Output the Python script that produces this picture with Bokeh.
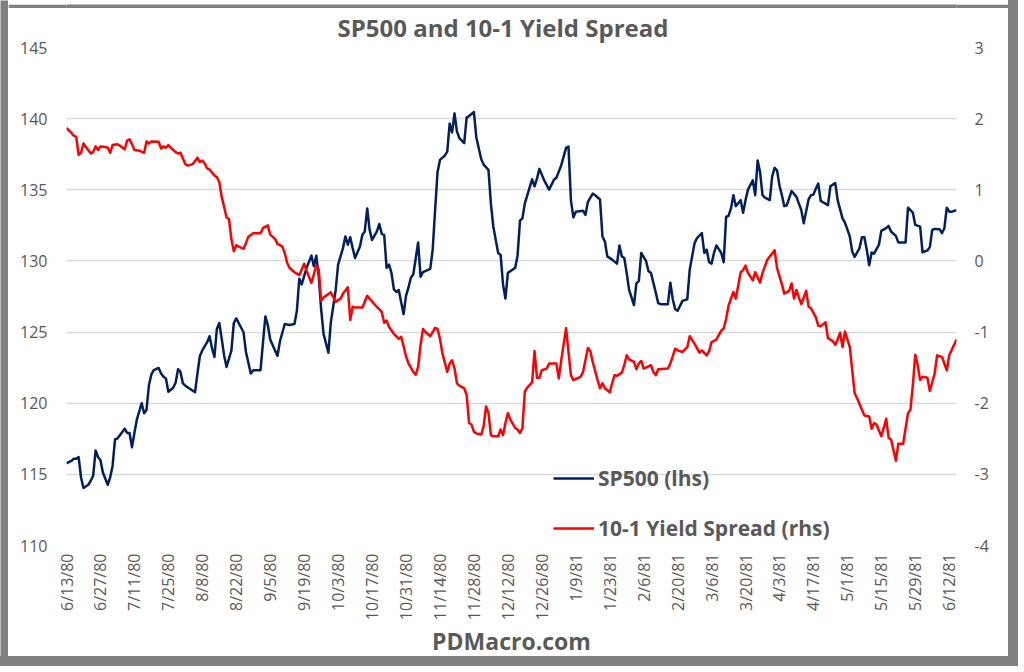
import pandas as pd
from math import pi
from bokeh.plotting import figure
from bokeh.layouts import row, column
from bokeh.models import (Range1d, LinearAxis, FixedTicker, Title, Legend,
                          LegendItem, ColumnDataSource)
from bokeh.embed import file_html
from bokeh.resources import INLINE

# ---------------- data ----------------
sp500_dates = [
    "6/13/80", "6/15/80", "6/16/80", "6/17/80", "6/18/80", "6/19/80", "6/20/80", "6/22/80", "6/23/80", "6/24/80",
    "6/25/80", "6/26/80", "6/27/80", "6/28/80", "6/30/80", "7/1/80", "7/2/80", "7/3/80", "7/4/80", "7/7/80",
    "7/8/80", "7/9/80", "7/10/80", "7/11/80", "7/12/80", "7/14/80", "7/15/80", "7/16/80", "7/17/80", "7/18/80",
    "7/19/80", "7/21/80", "7/22/80", "7/23/80", "7/24/80", "7/25/80", "7/27/80", "7/28/80", "7/29/80", "7/30/80",
    "7/31/80", "8/1/80", "8/3/80", "8/5/80", "8/6/80", "8/7/80", "8/8/80", "8/10/80", "8/11/80", "8/12/80",
    "8/13/80", "8/14/80", "8/15/80", "8/16/80", "8/17/80", "8/18/80", "8/20/80", "8/21/80", "8/22/80", "8/23/80",
    "8/25/80", "8/26/80", "8/28/80", "8/29/80", "9/1/80", "9/3/80", "9/4/80", "9/5/80", "9/8/80", "9/9/80",
    "9/11/80", "9/13/80", "9/15/80", "9/16/80", "9/17/80", "9/18/80", "9/19/80", "9/20/80", "9/22/80", "9/23/80",
    "9/24/80", "9/25/80", "9/26/80", "9/27/80", "9/29/80", "9/30/80", "10/2/80", "10/3/80", "10/5/80", "10/6/80",
    "10/7/80", "10/8/80", "10/9/80", "10/10/80", "10/12/80", "10/13/80", "10/14/80", "10/15/80", "10/16/80", "10/17/80",
    "10/19/80", "10/20/80", "10/21/80", "10/22/80", "10/23/80", "10/24/80", "10/25/80", "10/26/80", "10/27/80", "10/28/80",
    "10/30/80", "10/31/80", "11/1/80", "11/2/80", "11/3/80", "11/5/80", "11/6/80", "11/7/80", "11/10/80", "11/11/80",
    "11/12/80", "11/13/80", "11/14/80", "11/16/80", "11/17/80", "11/18/80", "11/19/80", "11/20/80", "11/21/80", "11/22/80",
    "11/24/80", "11/25/80", "11/26/80", "11/28/80", "11/29/80", "12/1/80", "12/2/80", "12/4/80", "12/5/80", "12/6/80",
    "12/8/80", "12/9/80", "12/10/80", "12/11/80", "12/12/80", "12/13/80", "12/15/80", "12/16/80", "12/17/80", "12/18/80",
    "12/19/80", "12/22/80", "12/23/80", "12/24/80", "12/25/80", "12/27/80", "12/29/80", "12/31/80", "1/1/81", "1/3/81",
    "1/5/81", "1/6/81", "1/7/81", "1/8/81", "1/9/81", "1/12/81", "1/13/81", "1/14/81", "1/16/81", "1/17/81",
    "1/19/81", "1/20/81", "1/21/81", "1/22/81", "1/24/81", "1/26/81", "1/27/81", "1/28/81", "1/29/81", "1/30/81",
    "1/31/81", "2/2/81", "2/3/81", "2/4/81", "2/5/81", "2/7/81", "2/8/81", "2/9/81", "2/11/81", "2/12/81",
    "2/13/81", "2/16/81", "2/17/81", "2/18/81", "2/19/81", "2/20/81", "2/22/81", "2/24/81", "2/25/81", "2/27/81",
    "2/28/81", "3/2/81", "3/3/81", "3/4/81", "3/5/81", "3/6/81", "3/7/81", "3/8/81", "3/10/81", "3/11/81",
    "3/12/81", "3/13/81", "3/14/81", "3/15/81", "3/16/81", "3/18/81", "3/19/81", "3/20/81", "3/21/81", "3/23/81",
    "3/24/81", "3/25/81", "3/26/81", "3/27/81", "3/28/81", "3/30/81", "3/31/81", "4/1/81", "4/2/81", "4/3/81",
    "4/4/81", "4/5/81", "4/6/81", "4/8/81", "4/10/81", "4/12/81", "4/13/81", "4/15/81", "4/16/81", "4/17/81",
    "4/18/81", "4/19/81", "4/20/81", "4/23/81", "4/24/81", "4/26/81", "4/27/81", "4/29/81", "4/30/81", "5/2/81",
    "5/3/81", "5/4/81", "5/6/81", "5/7/81", "5/8/81", "5/9/81", "5/10/81", "5/11/81", "5/12/81", "5/14/81",
    "5/15/81", "5/17/81", "5/18/81", "5/19/81", "5/21/81", "5/22/81", "5/25/81", "5/26/81", "5/28/81", "5/29/81",
    "5/31/81", "6/1/81", "6/3/81", "6/4/81", "6/5/81", "6/6/81", "6/8/81", "6/9/81", "6/10/81", "6/11/81",
    "6/12/81", "6/13/81", "6/15/81",
]
sp500_values = [
    115.78, 115.94, 116.10, 116.10, 116.22, 114.78, 114.04, 114.27, 114.55, 114.90,
    116.68, 116.22, 115.99, 115.13, 114.27, 114.78, 115.59, 117.45, 117.52, 118.21,
    117.91, 117.91, 116.91, 117.91, 118.84, 120.00, 119.30, 119.54, 121.28, 122.02,
    122.32, 122.48, 122.09, 121.86, 121.74, 120.81, 121.09, 121.46, 122.39, 122.20,
    121.39, 121.23, 121.00, 120.77, 122.09, 123.32, 123.71, 124.29, 124.71, 123.87,
    123.25, 125.22, 125.64, 124.52, 123.36, 122.55, 123.71, 125.64, 125.96, 125.64,
    124.99, 123.60, 122.09, 122.32, 122.32, 126.10, 125.50, 124.48, 123.32, 124.34,
    125.57, 125.50, 125.57, 126.50, 128.75, 128.35, 128.93, 129.51, 130.37, 129.63,
    130.37, 128.93, 126.61, 124.87, 123.55, 125.68, 127.96, 129.74, 130.90, 131.72,
    131.14, 131.67, 130.90, 130.21, 131.02, 131.83, 132.07, 133.69, 132.18, 131.48,
    132.07, 132.60, 131.90, 131.83, 129.51, 129.74, 129.16, 128.00, 127.82, 127.96,
    126.26, 127.54, 128.12, 128.82, 129.05, 131.30, 128.89, 129.21, 129.44, 130.79,
    133.57, 136.24, 137.10, 137.40, 137.68, 139.65, 139.03, 140.37, 139.10, 138.63,
    138.28, 140.07, 140.19, 140.46, 138.68, 137.17, 136.77, 136.40, 134.04, 132.41,
    130.56, 130.44, 128.35, 127.35, 129.16, 129.28, 129.51, 130.37, 132.83, 132.99,
    134.04, 135.73, 135.24, 135.78, 136.47, 135.66, 135.01, 135.71, 135.85, 136.71,
    137.94, 138.03, 134.27, 133.06, 133.46, 133.53, 133.23, 134.15, 134.73, 134.62,
    134.32, 131.72, 131.37, 130.32, 130.09, 129.81, 131.09, 130.32, 130.21, 129.16,
    127.96, 126.89, 128.42, 128.58, 130.56, 129.98, 129.28, 129.16, 127.77, 127.03,
    126.96, 126.96, 128.47, 127.31, 126.61, 126.50, 127.19, 127.31, 129.40, 131.25,
    131.60, 131.95, 130.56, 130.79, 129.91, 129.81, 130.56, 131.09, 130.56, 129.91,
    133.11, 133.16, 133.69, 134.62, 133.85, 134.27, 133.39, 134.27, 135.01, 135.66,
    134.62, 137.05, 136.24, 134.62, 134.45, 134.27, 135.94, 136.54, 136.36, 135.30,
    134.62, 133.85, 133.90, 134.92, 134.50, 133.57, 132.65, 134.32, 134.62, 134.66,
    135.08, 135.43, 134.22, 133.92, 135.24, 135.48, 134.27, 132.99, 132.69, 131.72,
    130.67, 130.28, 130.90, 131.67, 131.67, 130.79, 129.70, 130.60, 130.51, 131.14,
    132.11, 132.30, 132.46, 132.07, 131.76, 131.30, 131.30, 133.74, 133.39, 132.53,
    132.41, 130.60, 130.74, 130.97, 132.18, 132.25, 132.23, 131.95, 132.30, 133.74,
    133.46, 133.46, 133.57,
]

spread_dates = [
    "6/13/80", "6/15/80", "6/16/80", "6/17/80", "6/18/80", "6/19/80", "6/20/80", "6/21/80", "6/23/80", "6/24/80",
    "6/25/80", "6/26/80", "6/27/80", "6/29/80", "6/30/80", "7/1/80", "7/2/80", "7/4/80", "7/5/80", "7/7/80",
    "7/8/80", "7/9/80", "7/10/80", "7/11/80", "7/13/80", "7/15/80", "7/16/80", "7/17/80", "7/18/80", "7/21/80",
    "7/22/80", "7/23/80", "7/24/80", "7/25/80", "7/26/80", "7/28/80", "7/29/80", "7/30/80", "8/1/80", "8/2/80",
    "8/4/80", "8/6/80", "8/7/80", "8/8/80", "8/9/80", "8/10/80", "8/11/80", "8/13/80", "8/14/80", "8/15/80",
    "8/16/80", "8/17/80", "8/18/80", "8/19/80", "8/20/80", "8/21/80", "8/22/80", "8/23/80", "8/25/80", "8/26/80",
    "8/27/80", "8/29/80", "9/1/80", "9/2/80", "9/4/80", "9/5/80", "9/7/80", "9/8/80", "9/10/80", "9/11/80",
    "9/12/80", "9/13/80", "9/15/80", "9/17/80", "9/19/80", "9/20/80", "9/22/80", "9/24/80", "9/25/80", "9/26/80",
    "9/27/80", "9/30/80", "10/2/80", "10/4/80", "10/5/80", "10/7/80", "10/8/80", "10/9/80", "10/10/80", "10/13/80",
    "10/15/80", "10/18/80", "10/20/80", "10/21/80", "10/22/80", "10/23/80", "10/24/80", "10/26/80", "10/28/80", "10/29/80",
    "10/30/80", "10/31/80", "11/1/80", "11/3/80", "11/4/80", "11/5/80", "11/6/80", "11/7/80", "11/8/80", "11/10/80",
    "11/11/80", "11/12/80", "11/13/80", "11/14/80", "11/15/80", "11/17/80", "11/18/80", "11/19/80", "11/20/80", "11/21/80",
    "11/22/80", "11/24/80", "11/25/80", "11/26/80", "11/27/80", "11/28/80", "11/29/80", "12/1/80", "12/2/80", "12/3/80",
    "12/4/80", "12/5/80", "12/6/80", "12/8/80", "12/9/80", "12/10/80", "12/11/80", "12/12/80", "12/13/80", "12/15/80",
    "12/16/80", "12/17/80", "12/18/80", "12/19/80", "12/20/80", "12/22/80", "12/23/80", "12/24/80", "12/25/80", "12/26/80",
    "12/28/80", "12/29/80", "1/1/81", "1/2/81", "1/3/81", "1/5/81", "1/6/81", "1/7/81", "1/8/81", "1/11/81",
    "1/12/81", "1/14/81", "1/15/81", "1/16/81", "1/18/81", "1/19/81", "1/20/81", "1/21/81", "1/23/81", "1/24/81",
    "1/25/81", "1/26/81", "1/28/81", "1/29/81", "1/30/81", "1/31/81", "2/2/81", "2/3/81", "2/4/81", "2/5/81",
    "2/6/81", "2/9/81", "2/10/81", "2/11/81", "2/12/81", "2/16/81", "2/17/81", "2/19/81", "2/20/81", "2/22/81",
    "2/24/81", "2/25/81", "2/27/81", "2/28/81", "3/1/81", "3/2/81", "3/4/81", "3/5/81", "3/6/81", "3/7/81",
    "3/8/81", "3/10/81", "3/11/81", "3/12/81", "3/13/81", "3/14/81", "3/15/81", "3/16/81", "3/18/81", "3/19/81",
    "3/20/81", "3/21/81", "3/23/81", "3/24/81", "3/26/81", "3/27/81", "3/29/81", "4/1/81", "4/2/81", "4/4/81",
    "4/5/81", "4/7/81", "4/8/81", "4/9/81", "4/10/81", "4/11/81", "4/12/81", "4/14/81", "4/15/81", "4/16/81",
    "4/18/81", "4/19/81", "4/20/81", "4/22/81", "4/23/81", "4/25/81", "4/26/81", "4/27/81", "4/28/81", "4/29/81",
    "4/30/81", "5/2/81", "5/4/81", "5/5/81", "5/7/81", "5/8/81", "5/10/81", "5/11/81", "5/12/81", "5/13/81",
    "5/15/81", "5/16/81", "5/17/81", "5/18/81", "5/19/81", "5/21/81", "5/22/81", "5/24/81", "5/26/81", "5/27/81",
    "5/28/81", "5/29/81", "5/30/81", "5/31/81", "6/1/81", "6/3/81", "6/4/81", "6/6/81", "6/7/81", "6/9/81",
    "6/11/81", "6/12/81", "6/15/81",
]
spread_values = [
    1.87, 1.80, 1.76, 1.745, 1.49, 1.52, 1.65, 1.60, 1.51, 1.53,
    1.61, 1.56, 1.61, 1.60, 1.59, 1.52, 1.63, 1.64, 1.62, 1.57,
    1.69, 1.71, 1.64, 1.56, 1.55, 1.52, 1.68, 1.65, 1.68, 1.675,
    1.58, 1.61, 1.59, 1.63, 1.59, 1.53, 1.51, 1.52, 1.36, 1.34,
    1.36, 1.45, 1.39, 1.41, 1.37, 1.30, 1.285, 1.20, 1.18, 1.11,
    0.90, 0.76, 0.61, 0.59, 0.30, 0.135, 0.22, 0.20, 0.17, 0.25,
    0.34, 0.39, 0.39, 0.46, 0.50, 0.37, 0.31, 0.24, 0.20, 0.11,
    -0.03, -0.10, -0.16, -0.20, -0.04, -0.14, -0.31, -0.065, -0.12, -0.56,
    -0.515, -0.44, -0.575, -0.53, -0.46, -0.37, -0.83, -0.645, -0.654, -0.654,
    -0.49, -0.61, -0.68, -0.72, -0.87, -0.84, -0.93, -1.025, -1.095, -1.067,
    -1.20, -1.34, -1.44, -1.56, -1.60, -1.49, -1.18, -0.956, -1.00, -1.058,
    -1.00, -0.94, -0.956, -1.095, -1.30, -1.56, -1.443, -1.397, -1.513, -1.72,
    -1.754, -1.79, -1.884, -2.278, -2.30, -2.40, -2.427, -2.44, -2.325, -2.046,
    -2.14, -2.45, -2.464, -2.464, -2.37, -2.45, -2.278, -2.14, -2.23, -2.348,
    -2.37, -2.418, -2.348, -1.838, -1.78, -1.708, -1.267, -1.643, -1.643, -1.536,
    -1.513, -1.443, -1.443, -1.652, -1.397, -0.947, -1.28, -1.605, -1.675, -1.629,
    -1.56, -1.225, -1.27, -1.42, -1.675, -1.79, -1.72, -1.79, -1.847, -1.72,
    -1.606, -1.615, -1.57, -1.466, -1.327, -1.383, -1.42, -1.522, -1.443, -1.406,
    -1.513, -1.466, -1.56, -1.606, -1.522, -1.513, -1.443, -1.234, -1.257, -1.28,
    -1.21, -1.058, -1.165, -1.225, -1.29, -1.257, -1.327, -1.267, -1.14, -1.123,
    -1.104, -0.98, -0.947, -0.817, -0.63, -0.53, -0.436, -0.53, -0.158, -0.13,
    -0.065, -0.167, -0.274, -0.158, -0.306, -0.167, 0.018, 0.15, -0.10, -0.33,
    -0.46, -0.42, -0.316, -0.53, -0.408, -0.515, -0.608, -0.42, -0.64, -0.668,
    -0.794, -0.91, -0.92, -0.863, -1.086, -1.128, -1.18, -1.104, -1.01, -1.21,
    -0.993, -1.21, -1.86, -1.93, -2.093, -2.172, -2.186, -2.36, -2.278, -2.30,
    -2.464, -2.348, -2.218, -2.487, -2.51, -2.81, -2.57, -2.57, -2.14, -2.093,
    -1.745, -1.318, -1.466, -1.675, -1.629, -1.643, -1.828, -1.582, -1.327, -1.35,
    -1.536, -1.327, -1.104,
]

x_tick_labels = [
    "6/13/80", "6/27/80", "7/11/80", "7/25/80", "8/8/80", "8/22/80", "9/5/80",
    "9/19/80", "10/3/80", "10/17/80", "10/31/80", "11/14/80", "11/28/80",
    "12/12/80", "12/26/80", "1/9/81", "1/23/81", "2/6/81", "2/20/81", "3/6/81",
    "3/20/81", "4/3/81", "4/17/81", "5/1/81", "5/15/81", "5/29/81", "6/12/81",
]
left_ticks = [110, 115, 120, 125, 130, 135, 140, 145]
right_ticks = [-4, -3, -2, -1, 0, 1, 2, 3]
right_tick_labels = ["-4", "-3", "-2", "-1", "0", "1", "2", "3"]

title_text = "SP500 and 10-1 Yield Spread"
footer_text = "PDMacro.com"
sp500_label = "SP500 (lhs)"
spread_label = "10-1 Yield Spread (rhs)"

# ---------------- build ----------------
FMT = "%m/%d/%y"
EPOCH = pd.Timestamp("1970-01-01")


def to_ms(labels):
    idx = pd.to_datetime(labels, format=FMT)
    return [float((t - EPOCH) / pd.Timedelta(milliseconds=1)) for t in idx]


sp_src = ColumnDataSource(dict(date=pd.to_datetime(sp500_dates, format=FMT), val=sp500_values))
sd_src = ColumnDataSource(dict(date=pd.to_datetime(spread_dates, format=FMT), val=spread_values))

TXT = "#595959"
FONT = "Open Sans"
FRAME_GREY = "#808080"
EDGE = 8
FIG_W, FIG_H = 1000, 648

p = figure(
    width=FIG_W, height=FIG_H, output_backend="svg", toolbar_location=None,
    x_axis_type="datetime",
    x_range=Range1d(pd.to_datetime(sp500_dates[0], format=FMT), pd.to_datetime(sp500_dates[-1], format=FMT)),
    y_range=Range1d(left_ticks[0], left_ticks[-1]),
    min_border_left=58, min_border_right=52, min_border_top=39, min_border_bottom=107,
    background_fill_color="white", border_fill_color="white",
)
p.outline_line_color = None
p.extra_y_ranges = {"spread": Range1d(right_ticks[0], right_ticks[-1])}

# title (above)
p.title.text = title_text
p.title.align = "left"
p.title.offset = 271
p.title.vertical_align = "top"
p.title.text_font = FONT
p.title.text_font_size = "24px"
p.title.text_font_style = "bold"
p.title.text_color = TXT
p.title.standoff = 3

# x axis
xt = to_ms(x_tick_labels)
p.xaxis.ticker = FixedTicker(ticks=xt)
p.xaxis.major_label_overrides = {t: lab for t, lab in zip(xt, x_tick_labels)}
p.xaxis.major_label_orientation = pi / 2
p.xaxis.major_label_standoff = 8

# left axis
p.yaxis.ticker = FixedTicker(ticks=left_ticks)
p.yaxis.major_label_standoff = 19

# right axis
r_axis = LinearAxis(y_range_name="spread", ticker=FixedTicker(ticks=right_ticks))
r_axis.major_label_overrides = {float(t): lab for t, lab in zip(right_ticks, right_tick_labels)}
r_axis.major_label_standoff = 18
p.add_layout(r_axis, "right")

for ax in [p.xaxis[0], p.yaxis[0], r_axis]:
    ax.axis_line_color = None
    ax.major_tick_line_color = None
    ax.minor_tick_line_color = None
    ax.major_tick_out = 0
    ax.major_tick_in = 0
    ax.minor_tick_out = 0
    ax.minor_tick_in = 0
    ax.major_label_text_font = FONT
    ax.major_label_text_font_size = "16px"
    ax.major_label_text_color = TXT

# footer (below the date labels)
footer = Title(text=footer_text, align="center", text_font=FONT, text_font_size="23px",
               text_font_style="bold", text_color=TXT, standoff=-1)
p.add_layout(footer, "below")

p.xgrid.visible = False
p.ygrid.ticker = FixedTicker(ticks=left_ticks)
p.ygrid.grid_line_color = "#d9d9d9"
p.ygrid.grid_line_width = 1.5

r1 = p.line("date", "val", source=sp_src, line_color="#002060", line_width=2.5, line_join="round")
r2 = p.line("date", "val", source=sd_src, line_color="#ff0000", line_width=2.5, line_join="round",
            y_range_name="spread")

legend = Legend(
    items=[LegendItem(label=sp500_label, renderers=[r1]),
           LegendItem(label=spread_label, renderers=[r2])],
    location=(487, 3), padding=0, margin=0, spacing=22,
    glyph_width=41, glyph_height=22, label_height=22, label_standoff=4,
    border_line_color=None, background_fill_alpha=0,
    label_text_font=FONT, label_text_font_size="21px", label_text_font_style="bold",
    label_text_color=TXT,
)
p.add_layout(legend)


# grey picture frame: left/top strips are tiny empty canvases filled grey
def strip(w, h):
    s = figure(width=w, height=h, output_backend="svg", toolbar_location=None,
               x_axis_location=None, y_axis_location=None, min_border=0,
               border_fill_color=FRAME_GREY, background_fill_color=FRAME_GREY)
    s.outline_line_color = None
    s.grid.visible = False
    return s


page = row(strip(EDGE, FIG_H + EDGE), column(strip(FIG_W, EDGE), p, spacing=0), spacing=0)
page.styles = {"outline": f"10px solid {FRAME_GREY}"}

open("out.html", "w").write(file_html(page, INLINE))
